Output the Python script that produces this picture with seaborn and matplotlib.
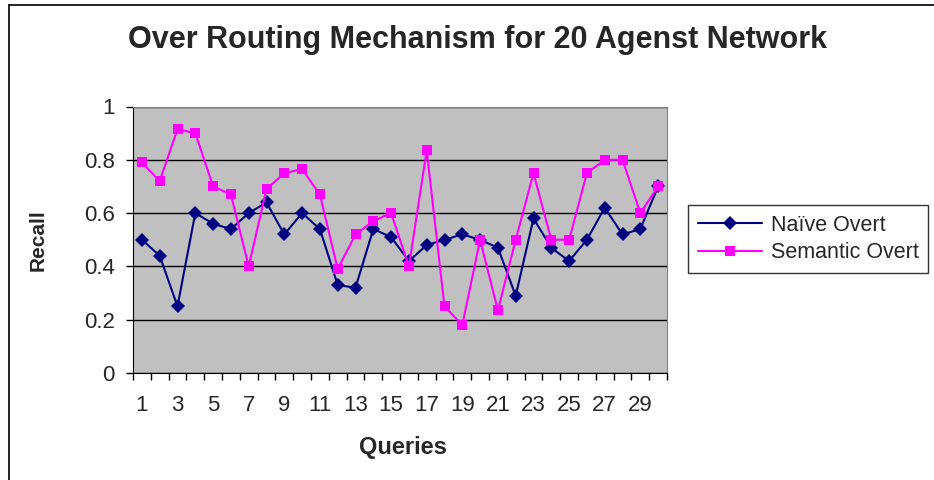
import numpy as np
import pandas as pd
import seaborn as sns
import matplotlib.pyplot as plt
from matplotlib.lines import Line2D

queries = list(range(1, 31))
naive_overt = [0.50, 0.44, 0.25, 0.60, 0.56, 0.54, 0.60, 0.64, 0.52, 0.60,
               0.54, 0.33, 0.32, 0.54, 0.51, 0.42, 0.48, 0.50, 0.52, 0.50,
               0.47, 0.29, 0.58, 0.47, 0.42, 0.50, 0.62, 0.52, 0.54, 0.70]
semantic_overt = [0.79, 0.72, 0.915, 0.90, 0.70, 0.67, 0.40, 0.69, 0.75, 0.765,
                  0.67, 0.39, 0.52, 0.57, 0.60, 0.40, 0.835, 0.25, 0.18, 0.50,
                  0.235, 0.50, 0.75, 0.50, 0.50, 0.75, 0.80, 0.80, 0.60, 0.70]
series_names = ["Naïve Overt", "Semantic Overt"]

df = pd.DataFrame({
    "Queries": queries * 2,
    "Recall": naive_overt + semantic_overt,
    "Series": [series_names[0]] * 30 + [series_names[1]] * 30,
})

sns.set_style("white")
plt.rcParams['font.family'] = ['Liberation Sans', 'DejaVu Sans']

fig = plt.figure(figsize=(9.34, 4.8), dpi=100)
ax = fig.add_axes([133 / 934, 1 - 373 / 480, 534 / 934, 266.5 / 480])
ax.set_facecolor("#C0C0C0")

sns.lineplot(data=df, x="Queries", y="Recall", hue="Series", style="Series",
             palette={series_names[0]: "#000080", series_names[1]: "#FF00FF"},
             markers={series_names[0]: "D", series_names[1]: "s"},
             dashes=False, markersize=7.5, linewidth=1.5, markeredgewidth=0,
             ax=ax, zorder=3)

ax.set_xlim(0.5, 30.5)
ax.set_ylim(0, 1)
ax.set_yticks(np.arange(0, 1.01, 0.2))
ax.set_yticklabels(["0", "0.2", "0.4", "0.6", "0.8", "1"])
ax.yaxis.grid(True, color="black", linewidth=1)
ax.set_axisbelow(True)

# category boundaries get the tick marks, odd categories get the labels
ax.set_xticks(np.arange(0.5, 31, 1))
ax.set_xticklabels([])
ax.set_xticks(queries[::2], minor=True)
ax.set_xticklabels([str(q) for q in queries[::2]], minor=True)
ax.tick_params(axis="x", which="major", direction="out", length=5, width=1, color="black", bottom=True)
ax.tick_params(axis="x", which="minor", length=0, pad=16, labelsize=16)
ax.tick_params(axis="y", direction="out", length=5, width=1, color="black", left=True, labelsize=16, pad=8)

for side in ["left", "bottom"]:
    ax.spines[side].set_color("black")
for side in ["top", "right"]:
    ax.spines[side].set_color("#808080")

ax.set_xlabel("Queries", fontsize=17, fontweight="bold")
ax.set_ylabel("Recall", fontsize=15, fontweight="bold")
ax.xaxis.set_label_coords(0.505, -0.237)
ax.yaxis.set_label_coords(-0.160, 0.5)

fig.text(477 / 934, 1 - 40 / 480, "Over Routing Mechanism for 20 Agenst Network",
         ha="center", va="center", fontsize=22, fontweight="bold")

handles, labels = ax.get_legend_handles_labels()
leg = ax.legend(handles, labels, loc="upper left", bbox_to_anchor=(688 / 934, 1 - 205 / 480),
                bbox_transform=fig.transFigure, fontsize=15.5, frameon=True, fancybox=False,
                handlelength=3, handletextpad=0.4, borderaxespad=0, borderpad=0.45,
                labelspacing=0.3)
leg.get_frame().set_edgecolor("black")
leg.get_frame().set_linewidth(1)

# outer chart border (top and left only visible)
fig.add_artist(Line2D([8.5 / 934, 8.5 / 934], [0, 1 - 4.5 / 480], color="black", linewidth=1.2))
fig.add_artist(Line2D([8.5 / 934, 1], [1 - 4.5 / 480, 1 - 4.5 / 480], color="black", linewidth=1.2))

fig.savefig("out.png", dpi=100)
